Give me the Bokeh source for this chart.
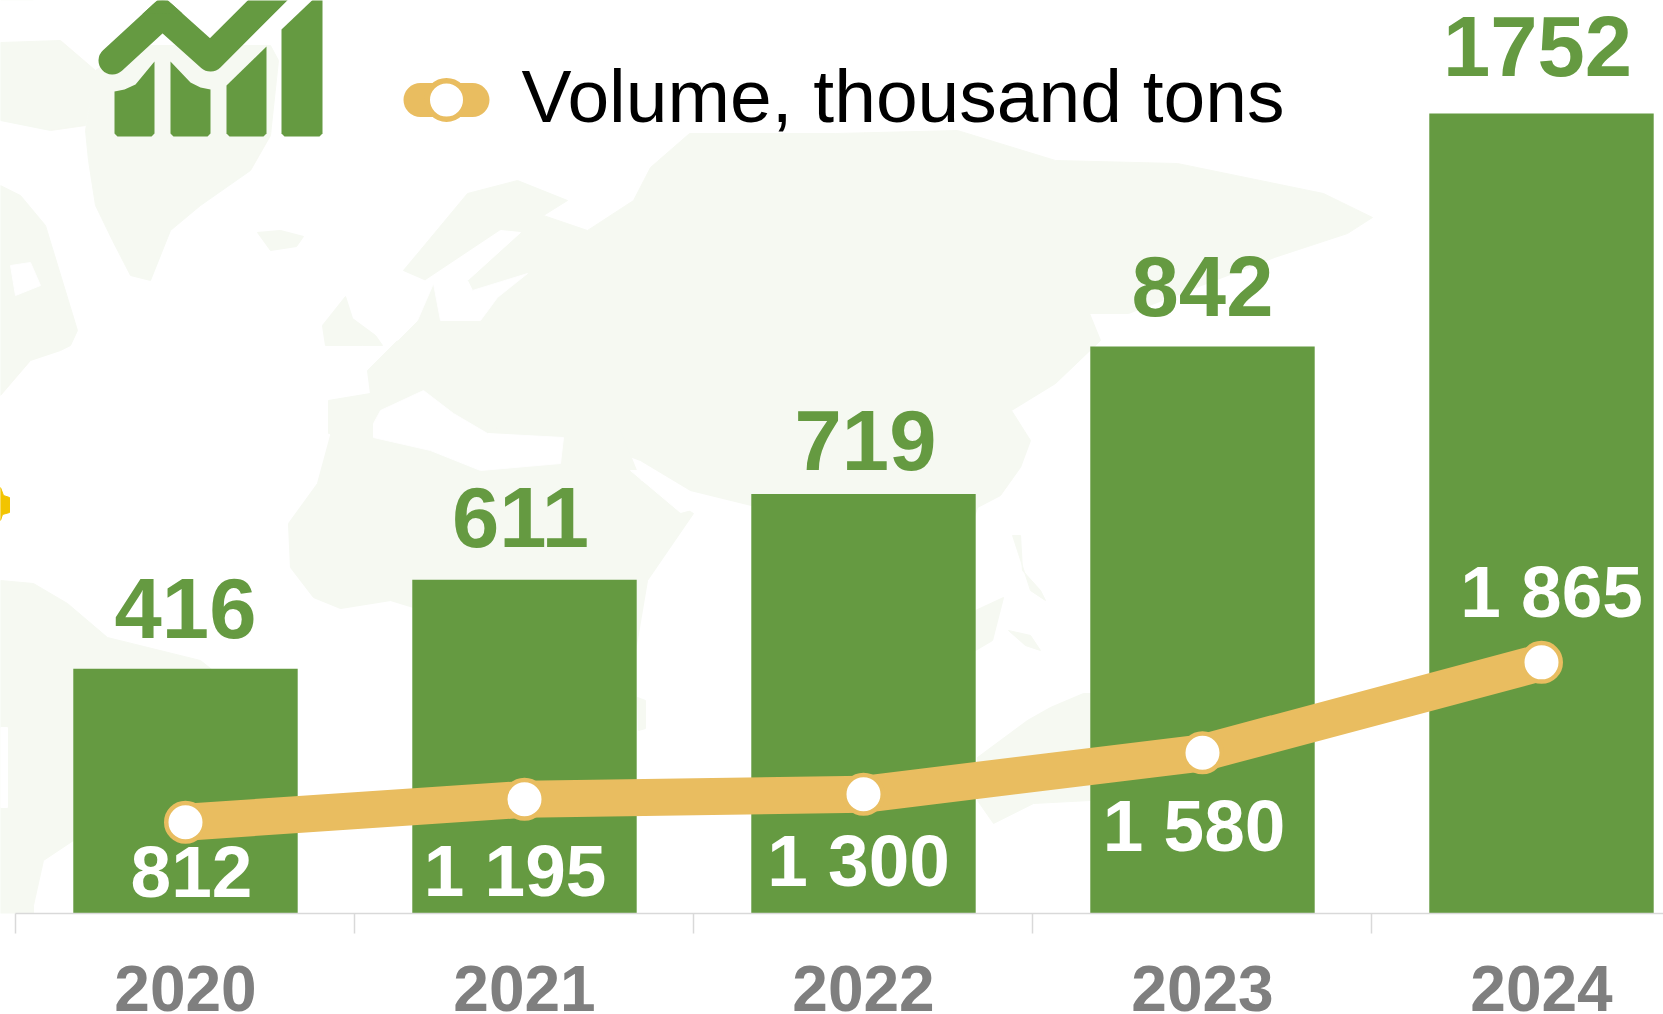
from bokeh.plotting import figure
from bokeh.embed import file_html
from bokeh.resources import INLINE
from bokeh.models import Range1d, LinearAxis, FixedTicker, PolyAnnotation
from bokeh.core.properties import value

years = ["2020", "2021", "2022", "2023", "2024"]
x_pos = [1, 2, 3, 4, 5]
bar_labels = ["416", "611", "719", "842", "1752"]
bar_heights = [536, 731, 919, 1242, 1752]
volume_labels = ["812", "1 195", "1 300", "1 580", "1 865"]
volume_line = [200, 250, 261, 352, 550]
legend_label = "Volume, thousand tons"

bar_label_dx = [0, -4, 2, 0, -4]
bar_label_dy = [-60, -62, -53, -60, -67]
vol_label_dx = [6, -9.5, -5, -8.5, 10]
vol_label_dy = [49.5, 70.7, 66, 72.7, -70.5]

GREEN = "#659a41"
GOLD = "#e9bd60"
GREY = "#7f7f7f"
LAND = "#f6f9f2"

# decorative backdrop and pictogram, in page pixels
land_shapes = [
    ([0, 60, 95, 85, 50, 0], [42, 40, 70, 125, 130, 120]),
    ([85, 95, 130, 270, 278, 270, 250, 200, 170, 150, 130, 112, 95, 88],
     [130, 70, 45, 45, 60, 135, 170, 205, 230, 280, 275, 240, 205, 160]),
    ([0, 20, 45, 77, 70, 60, 30, 0], [185, 195, 225, 330, 345, 350, 360, 395]),
    ([257, 280, 303, 296, 270], [232, 230, 236, 246, 250]),
    ([403, 467, 517, 567, 543, 587, 633, 650, 689, 835, 957, 1055, 1177, 1323, 1372, 1347, 1274, 1128,
      1089, 1100, 1055, 1011, 1030, 1020, 1000, 977, 960, 751, 690, 640, 560, 328, 328, 370, 367, 397, 417, 433],
     [270, 193, 180, 200, 215, 230, 200, 167, 133, 133, 130, 160, 163, 193, 217, 233, 257, 313,
      313, 340, 383, 410, 440, 467, 495, 507, 560, 505, 490, 460, 430, 433, 400, 393, 370, 340, 320, 283]),
    ([330, 317, 288, 290, 313, 340, 390, 413, 450, 520, 590, 630, 647, 693, 680, 640, 620, 330],
     [435, 483, 523, 567, 597, 608, 600, 607, 640, 800, 790, 680, 580, 513, 505, 480, 430, 425]),
    ([322, 345, 352, 375, 382, 362, 325], [325, 296, 318, 335, 345, 345, 345]),
    ([637, 645, 645, 638], [697, 700, 728, 730]),
    ([975, 1003, 992, 975], [610, 597, 640, 650]),
    ([1012, 1020, 1022, 1040, 1045, 1030], [535, 535, 570, 590, 600, 590]),
    ([1008, 1030, 1040, 1025], [630, 635, 650, 645]),
    ([977, 1027, 1050, 1083, 1090, 1090, 1033, 993, 977],
     [757, 720, 707, 693, 693, 800, 803, 823, 800]),
    ([0, 33, 67, 107, 200, 250, 200, 73, 43, 33, 33, 0],
     [580, 583, 603, 637, 660, 700, 800, 840, 860, 905, 914, 914]),
]
sea_shapes = [
    ([373, 380, 423, 453, 487, 563, 560, 480, 430, 373], [423, 410, 390, 413, 433, 437, 463, 470, 450, 437]),
    ([500, 520, 467, 472, 527, 497, 480, 440, 433, 417, 397, 408, 425],
     [230, 232, 280, 290, 273, 297, 320, 320, 283, 320, 340, 305, 280]),
    ([630, 645, 695, 680], [470, 470, 508, 512]),
    ([0, 7, 7, 0], [727, 727, 807, 807]),
    ([10, 30, 40, 15], [265, 262, 285, 295]),
]
star_shape = ([0, 3, 9, 9, 2, 0], [487, 495, 497, 512, 514, 520])
icon_arrow = ([112, 162, 210, 285], [60, 14, 57, -18])
icon_apex = ([162, 142, 182], [-5, 13.4, 13])
icon_columns = [
    ([114, 124, 135, 154, 154, 151, 117, 114], [91, 89, 84, 61, 133, 136, 136, 133]),
    ([170, 190, 200, 210, 210, 207, 173, 170], [61, 82, 87, 89, 133, 136, 136, 133]),
    ([226, 266, 266, 263, 229, 226], [85, 46, 133, 136, 136, 133]),
    ([281, 322, 322, 319, 284, 281], [29, -10, 133, 136, 136, 133]),
]

W, H = 1663, 1010
p = figure(width=W, height=H, frame_height=913, output_backend="svg", toolbar_location=None,
           x_range=Range1d(0.4543, 5.3599), y_range=Range1d(0, 1999.6),
           x_axis_type=None, y_axis_type=None, min_border=0)
p.grid.visible = False
p.outline_line_color = None
p.extra_x_ranges = {"px": Range1d(0, 1663)}
p.extra_y_ranges = {"px": Range1d(913, 0)}
px = dict(x_range_name="px", y_range_name="px")

for xs, ys in land_shapes:
    p.patch(xs, ys, fill_color=LAND, line_color=LAND, **px)
for xs, ys in sea_shapes:
    p.patch(xs, ys, fill_color="white", line_color="white", **px)
p.patch(star_shape[0], star_shape[1], fill_color="#f2c400", line_color="#f2c400", **px)

tail = PolyAnnotation(xs=[0, 33, 33, 7, 0], ys=[913, 913, 947, 933, 920], xs_units="screen", ys_units="screen",
                      fill_color=LAND, fill_alpha=1, line_color=None, level="underlay")
p.add_layout(tail)

# icon
p.line(icon_arrow[0], icon_arrow[1], line_width=28, line_color=GREEN, line_cap="round", line_join="round", **px)
p.patch(icon_apex[0], icon_apex[1], fill_color=GREEN, line_color=None, **px)
for xs, ys in icon_columns:
    p.patch(xs, ys, fill_color=GREEN, line_color=None, **px)

# axis
axis = LinearAxis(ticker=FixedTicker(ticks=x_pos, minor_ticks=[0.5, 1.5, 2.5, 3.5, 4.5, 5.5]),
                  major_label_overrides={k: v for k, v in zip(x_pos, years)})
axis.bounds = (0.5, 5.5)
axis.axis_line_color = "#d9d9d9"
axis.axis_line_width = 1.5
axis.major_tick_out = 0
axis.major_tick_in = 0
axis.minor_tick_out = 20
axis.minor_tick_in = 0
axis.minor_tick_line_color = "#d9d9d9"
axis.minor_tick_line_width = 1.5
axis.major_label_standoff = 32
axis.major_label_text_font = "Liberation Sans"
axis.major_label_text_font_style = "bold"
axis.major_label_text_font_size = "64px"
axis.major_label_text_color = GREY
p.add_layout(axis, "below")

# bars
p.vbar(x=x_pos, top=bar_heights, bottom=0, width=0.662, fill_color=GREEN, line_color=None)

# line
p.line(x_pos, volume_line, line_color=GOLD, line_width=37, line_join="round")
p.scatter(x_pos, volume_line, size=38.5, fill_color="white", line_color=GOLD, line_width=4.5)

# value labels
p.text(x=x_pos, y=bar_heights, text=bar_labels, x_offset=bar_label_dx, y_offset=bar_label_dy,
       text_font=value("Liberation Sans"), text_font_style="bold", text_font_size="85px",
       text_color=GREEN, text_align="center", text_baseline="alphabetic")
p.text(x=x_pos, y=volume_line, text=volume_labels, x_offset=vol_label_dx, y_offset=vol_label_dy,
       text_font=value("Liberation Sans"), text_font_style="bold", text_font_size="73px",
       text_color="white", text_align="center", text_baseline="alphabetic")

# legend
p.line([420, 472], [99.5, 99.5], line_color=GOLD, line_width=34, line_cap="round", **px)
p.scatter([446], [99.5], size=38.5, fill_color="white", line_color=GOLD, line_width=5.5, **px)
p.text(x=[521], y=[95], text=[legend_label], text_font=value("Liberation Sans"), text_font_size="75px",
       text_color="black", text_align="left", text_baseline="alphabetic", **px)

open("out.html", "w").write(file_html(p, INLINE))
